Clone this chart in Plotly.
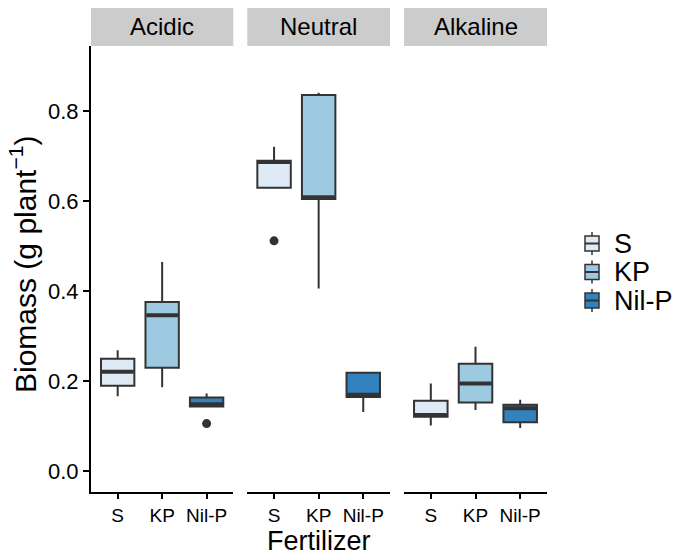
import plotly.graph_objects as go

panels = ["Acidic", "Neutral", "Alkaline"]
fertilizers = ["S", "KP", "Nil-P"]
colors = ["#deebf7", "#9ecae1", "#3182bd"]

# per panel, per fertilizer: lower fence, q1, median, q3, upper fence
lowerfence = [[0.167, 0.187, 0.144], [0.630, 0.406, 0.132], [0.102, 0.136, 0.096]]
q1 = [[0.190, 0.230, 0.144], [0.630, 0.605, 0.165], [0.121, 0.153, 0.109]]
median = [[0.221, 0.347, 0.149], [0.687, 0.609, 0.170], [0.125, 0.195, 0.140]]
q3 = [[0.250, 0.376, 0.164], [0.690, 0.836, 0.219], [0.157, 0.239, 0.148]]
upperfence = [[0.269, 0.465, 0.173], [0.721, 0.841, 0.219], [0.195, 0.277, 0.159]]
# outliers: (panel index, fertilizer index, value)
outlier_panel = [0, 1]
outlier_fert = [2, 0]
outlier_value = [0.106, 0.512]

tick_vals = [0.0, 0.2, 0.4, 0.6, 0.8]
tick_text = ["0.0", "0.2", "0.4", "0.6", "0.8"]

BOXW = 0.75
LINE = "#333333"

W, H = 685, 553
OFF = 8  # page body margin
ml, mr, mt, mb = 83, 146, 38, 69
pw = W - ml - mr
ph = H - mt - mb


def sx(x):
    return (x - OFF - ml) / pw


def sy(y):
    return (H - mb - (y - OFF)) / ph


domains = [[sx(91), sx(233.3)], [sx(247.3), sx(390)], [sx(404), sx(547)]]

fig = go.Figure()

for pi, panel in enumerate(panels):
    xa = "x" if pi == 0 else f"x{pi+1}"
    ya = "y" if pi == 0 else f"y{pi+1}"
    for fi, fert in enumerate(fertilizers):
        xpos = fi + 1
        fig.add_trace(go.Box(
            x=[xpos], q1=[q1[pi][fi]], median=[median[pi][fi]], q3=[q3[pi][fi]],
            lowerfence=[lowerfence[pi][fi]], upperfence=[upperfence[pi][fi]],
            width=BOXW, whiskerwidth=0, fillcolor=colors[fi],
            line=dict(color=LINE, width=2), boxpoints=False,
            name=fert, showlegend=False,
            xaxis=xa, yaxis=ya, hoverinfo="skip"))
        fig.add_trace(go.Scatter(
            x=[xpos - BOXW / 2 + 0.02, xpos + BOXW / 2 - 0.02],
            y=[median[pi][fi], median[pi][fi]], mode="lines",
            line=dict(color=LINE, width=4), showlegend=False,
            xaxis=xa, yaxis=ya, hoverinfo="skip"))

for p, f, v in zip(outlier_panel, outlier_fert, outlier_value):
    xa = "x" if p == 0 else f"x{p+1}"
    ya = "y" if p == 0 else f"y{p+1}"
    fig.add_trace(go.Scatter(x=[f + 1], y=[v], mode="markers",
                             marker=dict(color=LINE, size=9), showlegend=False,
                             xaxis=xa, yaxis=ya, hoverinfo="skip"))

font = "Liberation Sans, Arial, sans-serif"
yr = [-0.046, 0.945]
layout = dict(
    width=W, height=H, margin=dict(l=ml, r=mr, t=mt, b=mb),
    paper_bgcolor="white", plot_bgcolor="white",
    font=dict(family=font, color="black"),
    showlegend=False,
)
for pi in range(3):
    xk = "xaxis" if pi == 0 else f"xaxis{pi+1}"
    yk = "yaxis" if pi == 0 else f"yaxis{pi+1}"
    layout[xk] = dict(domain=domains[pi], range=[0.4, 3.6], tickmode="array",
                      tickvals=[1, 2, 3], ticktext=fertilizers, showline=True,
                      linecolor="black", linewidth=2, ticks="outside", ticklen=5,
                      tickwidth=1.5, tickcolor="black", showgrid=False, zeroline=False,
                      tickfont=dict(size=19, color="black"),
                      anchor="y" if pi == 0 else f"y{pi+1}")
    ydict = dict(range=yr, showgrid=False, zeroline=False,
                 anchor="x" if pi == 0 else f"x{pi+1}")
    if pi == 0:
        ydict.update(tickmode="array", tickvals=tick_vals, ticktext=tick_text,
                     showline=True, linecolor="black", linewidth=2, ticks="outside",
                     ticklen=6, tickwidth=1.5, tickcolor="black",
                     tickfont=dict(size=22, color="black"))
    else:
        ydict.update(matches="y", showticklabels=False, showline=False, ticks="")
    layout[yk] = ydict

fig.update_layout(**layout)

shapes = []
annotations = []
# facet strips
for pi, panel in enumerate(panels):
    d = domains[pi]
    shapes.append(dict(type="rect", xref="paper", yref="paper", x0=d[0], x1=d[1],
                       y0=1.0, y1=sy(OFF), fillcolor="#cccccc", line=dict(width=0),
                       layer="below"))
    annotations.append(dict(text=panel, xref="paper", yref="paper",
                            x=(d[0] + d[1]) / 2, y=sy(26),
                            xanchor="center", yanchor="middle", showarrow=False,
                            font=dict(size=24, color="black")))
# axis titles
annotations.append(dict(text="Fertilizer", xref="paper", yref="paper",
                        x=(domains[1][0] + domains[1][1]) / 2,
                        y=sy(541), xanchor="center", yanchor="middle",
                        showarrow=False, font=dict(size=27, color="black")))
annotations.append(dict(text="Biomass (g plant<sup>−1</sup>)", xref="paper", yref="paper",
                        x=sx(23), y=sy(265), xanchor="center", yanchor="middle",
                        textangle=-90, showarrow=False,
                        font=dict(size=30, color="black")))
# legend (boxplot keys)
key_cy = [243.5, 272, 300.5]
kx0, kx1 = 585, 599
for fi, fert in enumerate(fertilizers):
    cy = key_cy[fi]
    kxm = (kx0 + kx1) / 2
    shapes.append(dict(type="line", xref="paper", yref="paper", x0=sx(kxm), x1=sx(kxm),
                       y0=sy(cy - 11.5), y1=sy(cy + 11.5), line=dict(color=LINE, width=1.5)))
    shapes.append(dict(type="rect", xref="paper", yref="paper", x0=sx(kx0), x1=sx(kx1),
                       y0=sy(cy - 7.5), y1=sy(cy + 7.5), fillcolor=colors[fi],
                       line=dict(color=LINE, width=1.5)))
    shapes.append(dict(type="line", xref="paper", yref="paper", x0=sx(kx0), x1=sx(kx1),
                       y0=sy(cy), y1=sy(cy), line=dict(color=LINE, width=2)))
    annotations.append(dict(text=fert, xref="paper", yref="paper", x=sx(612), y=sy(cy),
                            xanchor="left", yanchor="middle", showarrow=False,
                            font=dict(size=27, color="black")))
fig.update_layout(shapes=shapes, annotations=annotations)

fig.write_html("out.html")
